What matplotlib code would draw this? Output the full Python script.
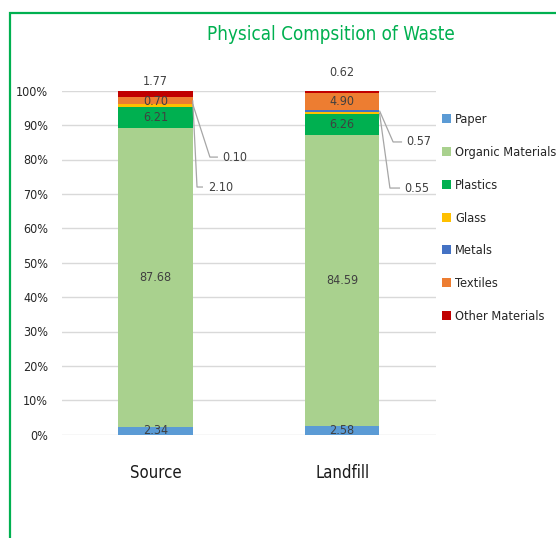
import matplotlib
matplotlib.use("Agg")
import matplotlib.pyplot as plt
from matplotlib.patches import Rectangle
import numpy as np

plt.rcParams['font.family'] = ['DejaVu Sans']
plt.rcParams['font.stretch'] = 'condensed'

# ---- data ----
categories = ["Source", "Landfill"]
series = ["Paper", "Organic Materials", "Plastics", "Glass", "Metals", "Textiles", "Other Materials"]
paper = [2.34, 2.58]
organic = [87.68, 84.59]
plastics = [6.21, 6.26]
glass = [0.70, 0.55]
metals = [0.10, 0.57]
textiles = [2.10, 4.90]
other = [1.77, 0.62]
yticks = [0, 10, 20, 30, 40, 50, 60, 70, 80, 90, 100]
title = "Physical Compsition of Waste"

colors = ["#5B9BD5", "#A9D18E", "#00B050", "#FFC000", "#4472C4", "#ED7D31", "#C00000"]
label_color = "#404040"

values = np.array([paper, organic, plastics, glass, metals, textiles, other], dtype=float)
totals = values.sum(axis=0)
pct = values / totals * 100.0
cum = np.cumsum(pct, axis=0)
bottoms = cum - pct

W, H = 556, 538
fig = plt.figure(figsize=(W / 100, H / 100), dpi=100)
fig.patch.set_facecolor("white")

ax = fig.add_axes([62 / W, 1 - 434.7 / H, (435.5 - 62) / W, (434.7 - 90.7) / H])
x = np.arange(len(categories))
bw = 0.4

for i, name in enumerate(series):
    ax.bar(x, pct[i], bottom=bottoms[i], width=bw, color=colors[i], label=name,
           zorder=3, linewidth=0)

ax.set_xlim(-0.5, 1.5)
ax.set_ylim(0, 100)
ax.set_yticks(yticks)
ax.set_yticklabels([f"{t}%" for t in yticks], fontsize=9, color="#262626")
ax.set_xticks(x)
ax.set_xticklabels(categories, fontsize=12, color="#1a1a1a")
ax.tick_params(axis="both", length=0)
ax.tick_params(axis="x", pad=21)
ax.tick_params(axis="y", pad=10)
for s in ax.spines.values():
    s.set_visible(False)
ax.grid(axis="y", color="#D9D9D9", linewidth=1.0, zorder=0)
ax.set_axisbelow(True)

def fmt(v):
    return f"{v:.2f}"

fs = 9
for j in range(len(categories)):
    for i in [0, 1, 2]:
        ax.text(x[j], bottoms[i, j] + pct[i, j] / 2, fmt(values[i, j]), ha="center", va="center",
                fontsize=fs, color=label_color, zorder=5)
# Source: glass label inside
ax.text(x[0], bottoms[3, 0] + pct[3, 0] / 2 + 1.0, fmt(values[3, 0]), ha="center", va="center",
        fontsize=fs, color=label_color, zorder=5)
# Landfill: textiles label inside
ax.text(x[1], bottoms[5, 1] + pct[5, 1] / 2, fmt(values[5, 1]), ha="center", va="center",
        fontsize=fs, color=label_color, zorder=5)
# Other materials labels above bars
other_offsets = [2.6, 5.2]
for j in range(len(categories)):
    ax.text(x[j], cum[6, j] + other_offsets[j], fmt(values[6, j]), ha="center", va="center",
            fontsize=fs, color=label_color, zorder=5)

# callouts: (series index, category index, elbow dx, elbow y, end dx)
callouts = [
    (4, 0, 0.292, 80.7, 0.335),
    (5, 0, 0.223, 72.0, 0.255),
    (4, 1, 0.273, 85.1, 0.321),
    (3, 1, 0.256, 71.7, 0.310),
]
lc = "#A6A6A6"
for si, cj, edx, ey, endx in callouts:
    y0 = bottoms[si, cj] + pct[si, cj] / 2
    x0 = x[cj] + bw / 2
    ax.plot([x0, x[cj] + edx, x[cj] + endx], [y0, ey, ey], color=lc, lw=0.9, zorder=4,
            clip_on=False, solid_capstyle="butt")
    ax.text(x[cj] + endx + 0.025, ey, fmt(values[si, cj]), ha="left", va="center",
            fontsize=fs, color=label_color, zorder=5)

# legend
handles, labels = ax.get_legend_handles_labels()
leg = fig.legend(handles, labels, loc="upper left", bbox_to_anchor=(437 / W, 1 - 108 / H),
                 frameon=False, fontsize=9.2, handlelength=0.7, handleheight=0.7,
                 handletextpad=0.3, labelspacing=1.55, borderaxespad=0, labelcolor="#262626")

# title
fig.text(330.5 / W, 1 - 34 / H, title, ha="center", va="center", fontsize=13.5, color="#00B050")

# chart border
fig.add_artist(Rectangle((10 / W, -0.1), 1.2, 1 - 13 / H + 0.1, transform=fig.transFigure,
                         fill=False, edgecolor="#00B050", linewidth=1.6))

fig.savefig("out.png", dpi=100)
